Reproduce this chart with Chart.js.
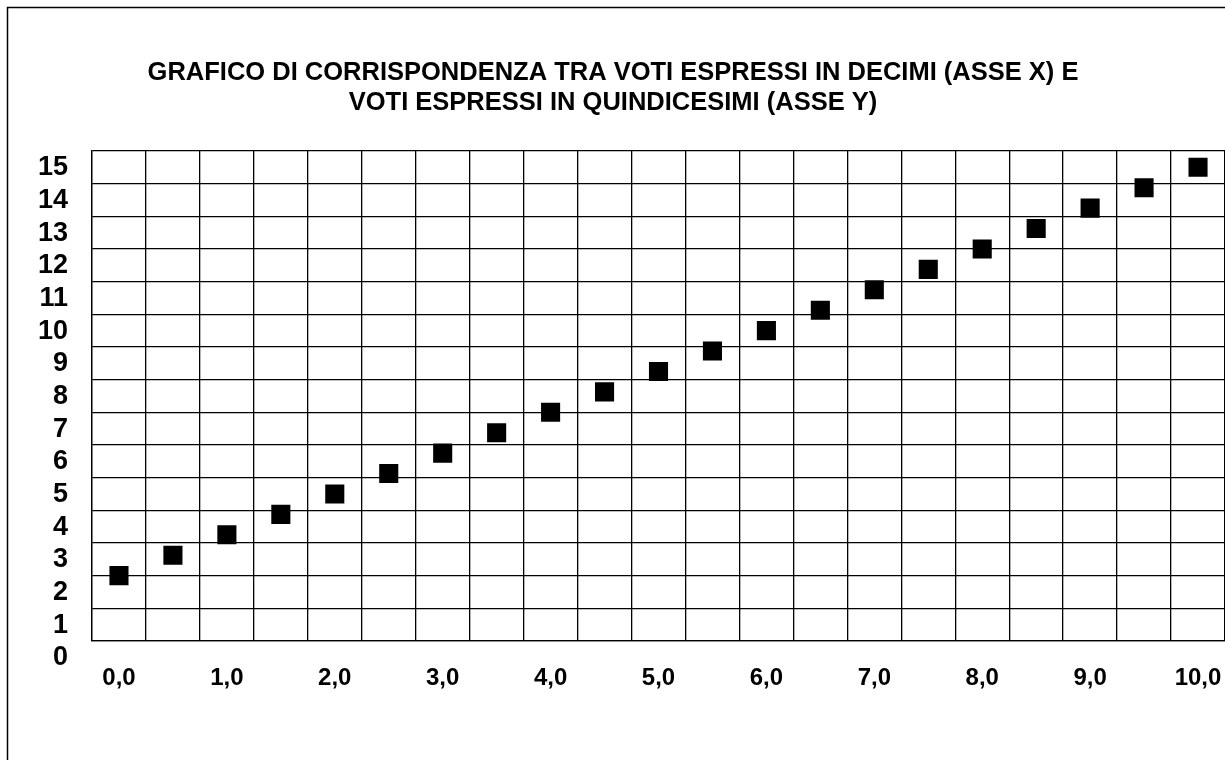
<!DOCTYPE html>
<html>
<head>
<meta charset="utf-8">
<script src="https://cdn.jsdelivr.net/npm/chart.js"></script>
<style>
  html, body { margin: 0; padding: 0; background: #fff; }
  #wrap { width: 1225px; height: 760px; position: relative; }
</style>
</head>
<body>
<div id="wrap"><canvas id="chart"></canvas></div>
<script>
// voti in decimi (asse x)
const decimi = ['0,0', '0,5', '1,0', '1,5', '2,0', '2,5', '3,0', '3,5', '4,0', '4,5', '5,0',
                '5,5', '6,0', '6,5', '7,0', '7,5', '8,0', '8,5', '9,0', '9,5', '10,0'];
// voti in quindicesimi (asse y)
const quindicesimi = [2, 2.625, 3.25, 3.875, 4.5, 5.125, 5.75, 6.375, 7, 7.625, 8.25,
                      8.875, 9.5, 10.125, 10.75, 11.375, 12, 12.625, 13.25, 13.875, 14.5];
const titolo = [
    'GRAFICO DI CORRISPONDENZA TRA VOTI ESPRESSI IN DECIMI (ASSE X) E',
    'VOTI ESPRESSI IN QUINDICESIMI (ASSE Y)'
];

const frame = {
    id: 'frame',
    beforeDraw(chart) {
        const ctx = chart.ctx;
        ctx.save();
        ctx.fillStyle = '#fff';
        ctx.fillRect(0, 0, chart.width, chart.height);
        ctx.strokeStyle = '#000';
        ctx.lineWidth = 1.5;
        ctx.beginPath();
        ctx.moveTo(7.5, chart.height + 2);
        ctx.lineTo(7.5, 7.5);
        ctx.lineTo(chart.width + 2, 7.5);
        ctx.stroke();
        ctx.restore();
    }
};

new Chart(document.getElementById('chart'), {
    type: 'line',
    data: {
        labels: decimi,
        datasets: [{
            data: quindicesimi,
            showLine: false,
            pointStyle: 'rect',
            pointRadius: 13.5,
            pointHoverRadius: 13.5,
            pointBackgroundColor: '#000',
            pointBorderColor: '#000',
            pointBorderWidth: 0
        }]
    },
    options: {
        responsive: true,
        maintainAspectRatio: false,
        animation: false,
        layout: { autoPadding: false, padding: { left: 0, right: -1, top: 0, bottom: 69 } },
        plugins: {
            legend: { display: false },
            tooltip: { enabled: false },
            title: {
                display: true,
                text: titolo,
                color: '#000',
                font: { family: 'Liberation Sans', size: 25.5, weight: 'bold', lineHeight: 1.176 },
                padding: { top: 58, bottom: 33 }
            }
        },
        scales: {
            x: {
                offset: true,
                grid: { offset: true, color: '#000', lineWidth: 1.3, drawTicks: false },
                border: { display: true, color: '#000', width: 1.3 },
                ticks: {
                    autoSkip: false,
                    maxRotation: 0,
                    padding: 23,
                    color: '#000',
                    font: { family: 'Liberation Sans', size: 24, weight: 'bold' },
                    callback: (v, i) => (i % 2 === 0 ? decimi[i] : '')
                },
                afterFit: s => { s.height = 50; s.paddingLeft = 0; s.paddingRight = 0; }
            },
            y: {
                min: 0,
                max: 15,
                grid: { color: '#000', lineWidth: 1.3, drawTicks: false },
                border: { display: true, color: '#000', width: 1.3 },
                ticks: {
                    autoSkip: false,
                    stepSize: 1,
                    padding: 24,
                    labelOffset: 17,
                    color: '#000',
                    font: { family: 'Liberation Sans', size: 27, weight: 'bold' }
                },
                afterFit: s => { s.width = 92; s.paddingTop = 0; s.paddingBottom = 0; }
            }
        }
    },
    plugins: [frame]
});
</script>
</body>
</html>
